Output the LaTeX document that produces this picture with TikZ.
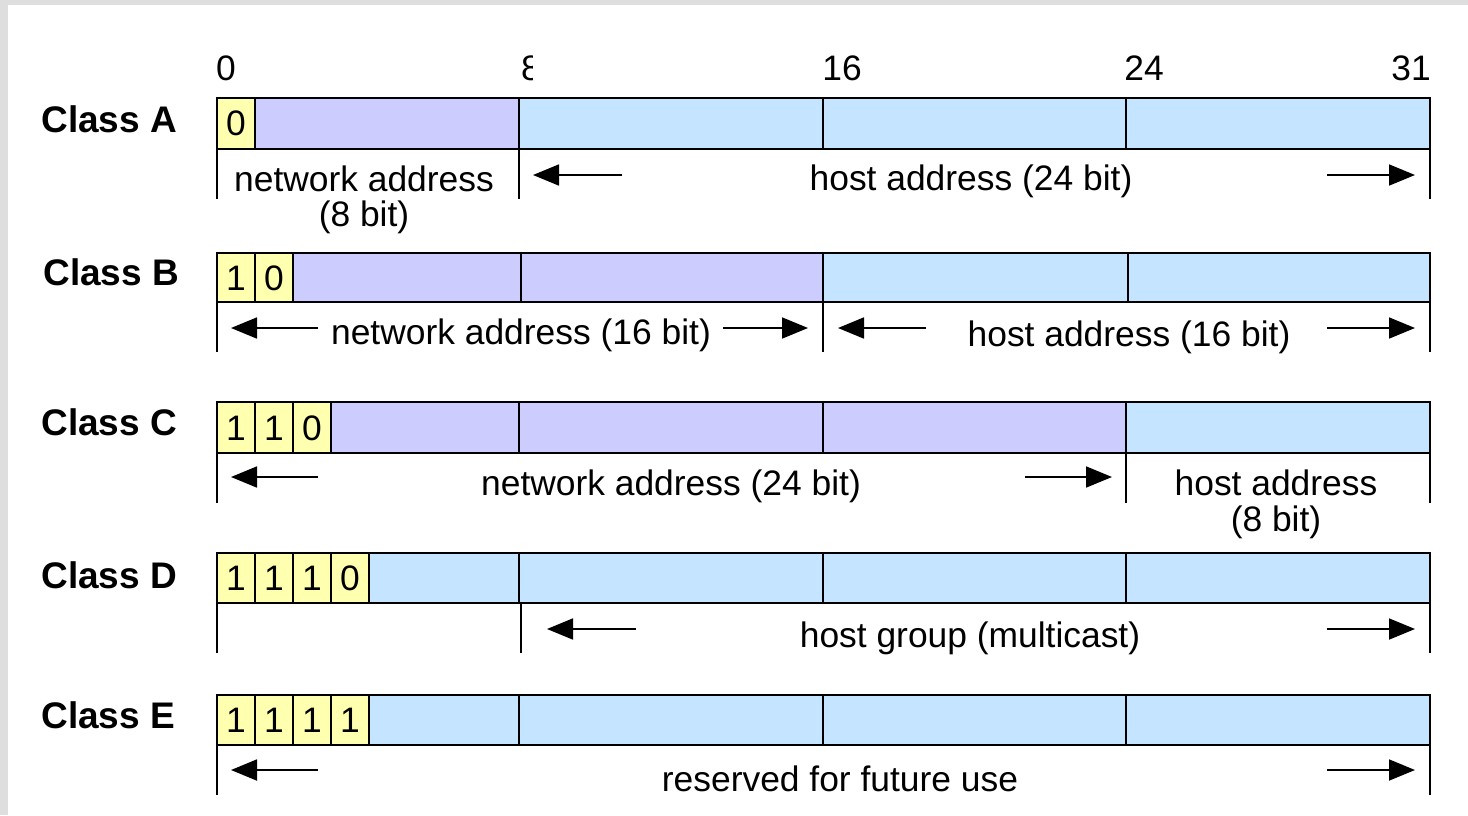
\documentclass[tikz,border=0pt]{standalone}
\usepackage{fontspec}
\setmainfont{Liberation Sans}
\usetikzlibrary{arrows.meta}
\definecolor{bityellow}{HTML}{FFFFB0}
\definecolor{netpurple}{HTML}{CCCCFF}
\definecolor{hostblue}{HTML}{C4E4FF}
\tikzset{
    field/.style={draw=black,line width=1pt},
    tick/.style={line width=1pt},
    span/.style={line width=0.9pt,-{Triangle[length=13pt,width=10.5pt]}},
    lbl/.style={inner sep=0pt,font=\fontsize{17.7}{20}\selectfont},
    cls/.style={inner sep=0pt,anchor=west,font=\fontsize{18.5}{21}\selectfont\bfseries},
  }
\begin{document}
\begin{tikzpicture}[x=0.5pt,y=-0.5pt]
  %cadre
  \fill[black!13] (0,0) rectangle (1468,815);
  \fill[white] (8,5) rectangle (1468,815);
  \useasboundingbox (0,0) rectangle (1468,815);
  %numeros de bits
  \node[lbl] (b0) at (226,68) {0};
  \begin{scope}
    \clip (510,45) rectangle (532,95);
    \node[lbl] (b8) at (531,68) {8};
  \end{scope}
  \node[lbl] (b16) at (842,68) {16};
  \node[lbl] (b24) at (1144,68) {24};
  \node[lbl] (b31) at (1411,68) {31};
  %CLASS A
  \node[cls] (ca) at (41,119) {Class A};
  \fill[netpurple] (217,98) rectangle (519,149);
  \fill[hostblue] (519,98) rectangle (1430,149);
  \fill[bityellow] (217,98) rectangle (255,149);
  \draw[field] (217,98) rectangle (1430,149);
  \foreach \x in {255,519,823,1126} \draw[field] (\x,98) -- (\x,149);
  \node[lbl] (a1) at (236,123) {0};
  \draw[tick] (217,149) -- (217,199) (519,149) -- (519,199) (1430,149) -- (1430,199);
  \node[lbl] (anet) at (364,179) {network address};
  \node[lbl] (anetb) at (364,217) {(8 bit)};
  \node[lbl] (ahost) at (971,181) {host address (24 bit)};
  \coordinate (al) at (622,175); \coordinate (alh) at (533,175);
  \coordinate (ar) at (1327,175); \coordinate (arh) at (1415,175);
  \draw[span] (al) -- (alh);
  \draw[span] (ar) -- (arh);
  %CLASS B
  \node[cls] (cb) at (43,272) {Class B};
  \fill[netpurple] (217,253) rectangle (823,302);
  \fill[hostblue] (823,253) rectangle (1430,302);
  \fill[bityellow] (217,253) rectangle (293,302);
  \draw[field] (217,253) rectangle (1430,302);
  \foreach \x in {255,293,521,823,1128} \draw[field] (\x,253) -- (\x,302);
  \node[lbl] (b1) at (236,278) {1};
  \node[lbl] (b2) at (274,278) {0};
  \draw[tick] (217,302) -- (217,352) (823,302) -- (823,352) (1430,302) -- (1430,352);
  \node[lbl] (bnet) at (521,335) {network address (16 bit)};
  \node[lbl] (bhost) at (1129,337) {host address (16 bit)};
  \coordinate (bl) at (318,328); \coordinate (blh) at (231,328);
  \coordinate (bm) at (723,328); \coordinate (bmh) at (808,328);
  \coordinate (bn) at (926,328); \coordinate (bnh) at (838,328);
  \coordinate (br) at (1327,328); \coordinate (brh) at (1415,328);
  \draw[span] (bl) -- (blh);
  \draw[span] (bm) -- (bmh);
  \draw[span] (bn) -- (bnh);
  \draw[span] (br) -- (brh);
  %CLASS C
  \node[cls] (cc) at (41,422) {Class C};
  \fill[netpurple] (217,402) rectangle (1126,453);
  \fill[hostblue] (1126,402) rectangle (1430,453);
  \fill[bityellow] (217,402) rectangle (331,453);
  \draw[field] (217,402) rectangle (1430,453);
  \foreach \x in {255,293,331,519,823,1126} \draw[field] (\x,402) -- (\x,453);
  \node[lbl] (c1) at (236,428) {1};
  \node[lbl] (c2) at (274,428) {1};
  \node[lbl] (c3) at (312,428) {0};
  \draw[tick] (217,453) -- (217,503) (1126,453) -- (1126,503) (1430,453) -- (1430,503);
  \node[lbl] (cnet) at (671,486) {network address (24 bit)};
  \node[lbl] (chost) at (1276,483) {host address};
  \node[lbl] (chostb) at (1276,522) {(8 bit)};
  \coordinate (cl) at (318,477); \coordinate (clh) at (231,477);
  \coordinate (cr) at (1025,477); \coordinate (crh) at (1112,477);
  \draw[span] (cl) -- (clh);
  \draw[span] (cr) -- (crh);
  %CLASS D
  \node[cls] (cd) at (41,575) {Class D};
  \fill[hostblue] (217,553) rectangle (1430,603);
  \fill[bityellow] (217,553) rectangle (369,603);
  \draw[field] (217,553) rectangle (1430,603);
  \foreach \x in {255,293,331,369,519,823,1126} \draw[field] (\x,553) -- (\x,603);
  \foreach \v [count=\i] in {1,1,1,0}
    \node[lbl] (d\i) at (198+38*\i,578) {\v};
  \draw[tick] (217,603) -- (217,653) (521,603) -- (521,653) (1430,603) -- (1430,653);
  \node[lbl] (dhost) at (970,638) {host group (multicast)};
  \coordinate (dl) at (636,629); \coordinate (dlh) at (547,629);
  \coordinate (dr) at (1327,629); \coordinate (drh) at (1415,629);
  \draw[span] (dl) -- (dlh);
  \draw[span] (dr) -- (drh);
  %CLASS E
  \node[cls] (ce) at (41,715) {Class E};
  \fill[hostblue] (217,695) rectangle (1430,745);
  \fill[bityellow] (217,695) rectangle (369,745);
  \draw[field] (217,695) rectangle (1430,745);
  \foreach \x in {255,293,331,369,519,823,1126} \draw[field] (\x,695) -- (\x,745);
  \foreach \v [count=\i] in {1,1,1,1}
    \node[lbl] (e\i) at (198+38*\i,720) {\v};
  \draw[tick] (217,745) -- (217,795) (1430,745) -- (1430,795);
  \node[lbl] (eres) at (840,779) {reserved for future use};
  \coordinate (el) at (318,770); \coordinate (elh) at (231,770);
  \coordinate (er) at (1327,770); \coordinate (erh) at (1415,770);
  \draw[span] (el) -- (elh);
  \draw[span] (er) -- (erh);
\end{tikzpicture}
\end{document}
